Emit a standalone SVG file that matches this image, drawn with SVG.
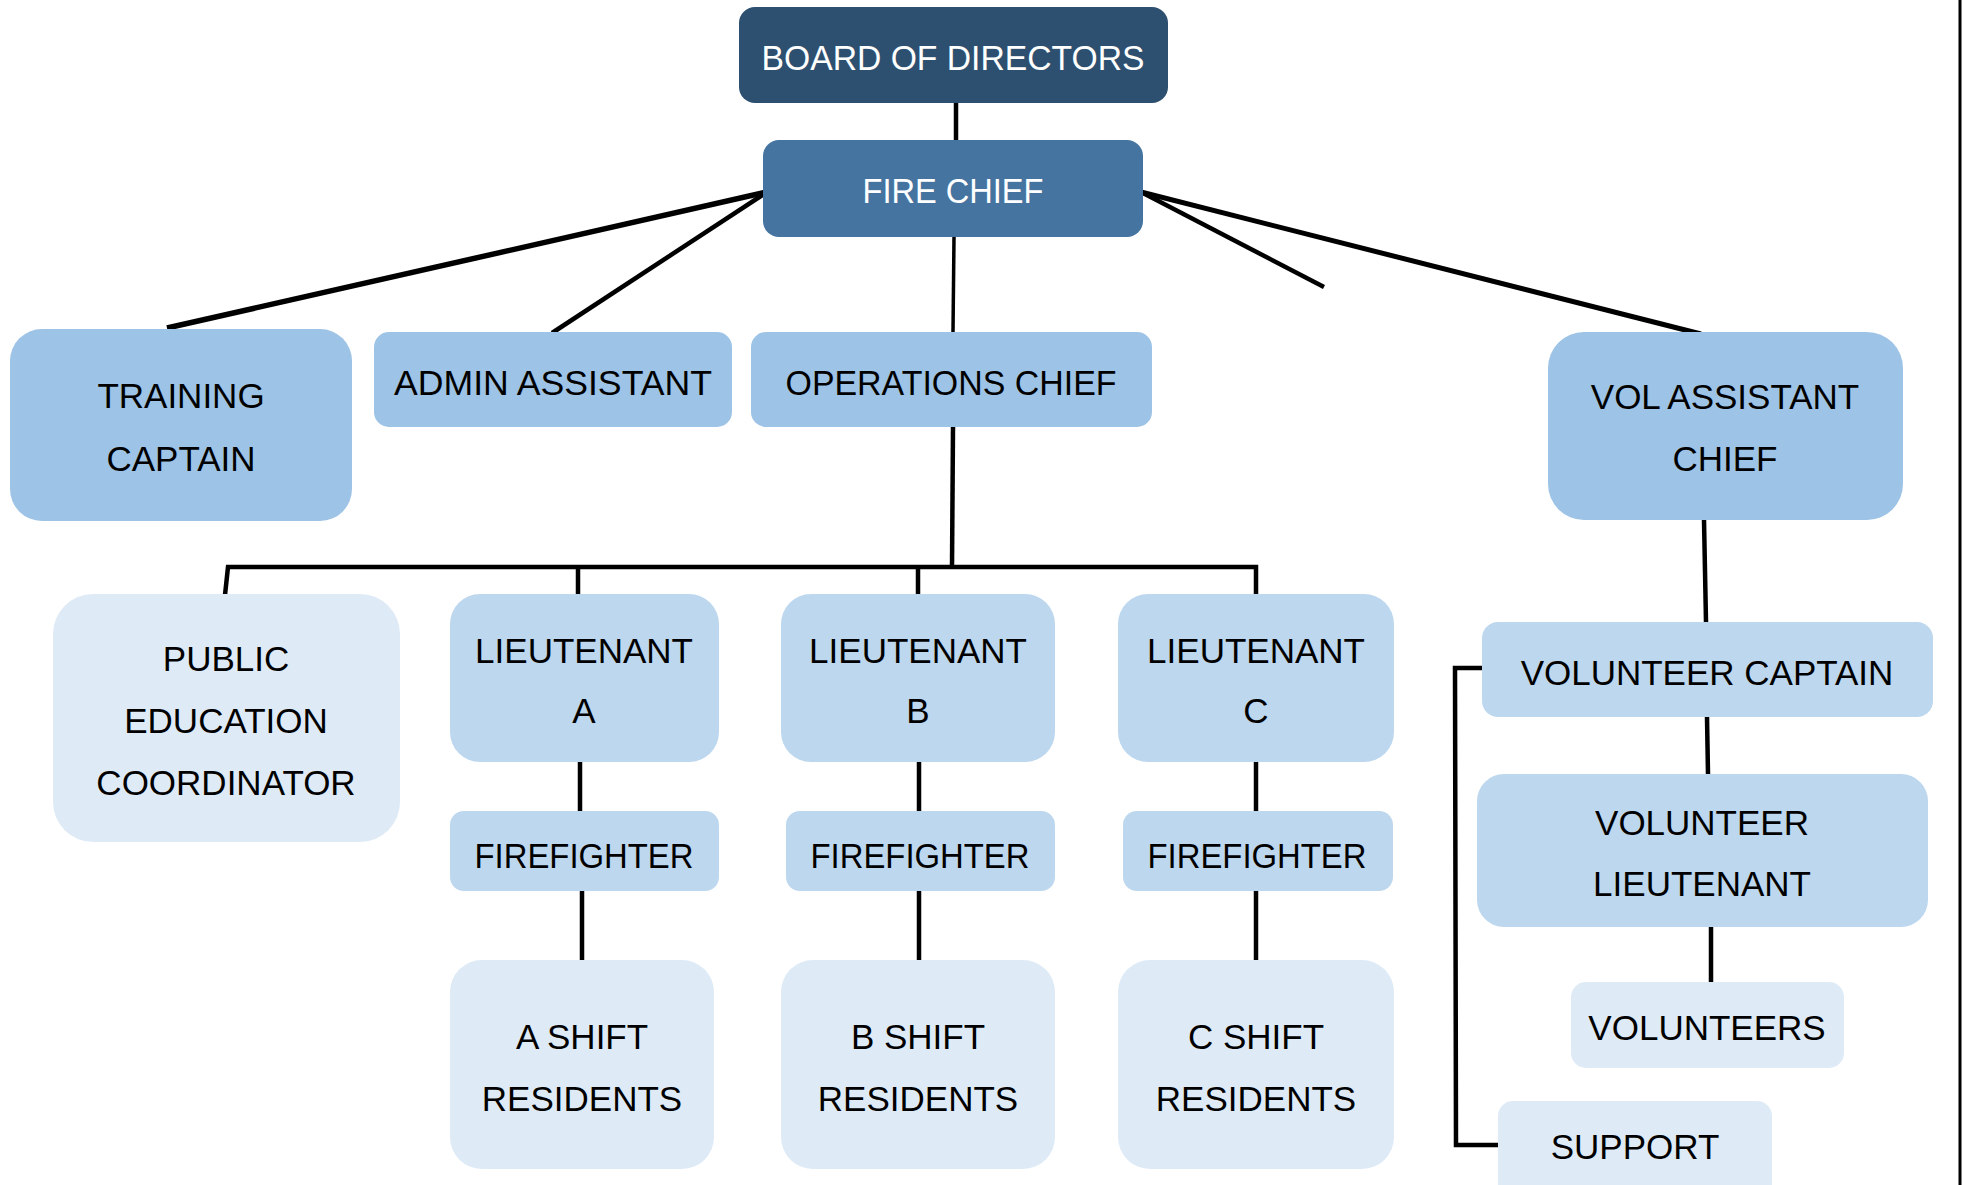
<svg xmlns="http://www.w3.org/2000/svg" width="1963" height="1185" viewBox="0 0 1963 1185">
<style>
.t{font-family:"Liberation Sans",Arial,sans-serif;font-size:35px;text-anchor:middle;fill:#000}
.w{fill:#fff}
.dk{fill:#2E5070}
.fc{fill:#44749F}
.md{fill:#9DC3E6}
.lt{fill:#BDD7EE}
.lg{fill:#DEEBF7}
.c{stroke:#000;stroke-width:4.5;fill:none;stroke-linecap:butt}
</style>
<rect width="1963" height="1185" fill="#fff"/>
<g id="connectors">
<line class="c" x1="956" y1="103" x2="956" y2="140"/>
<line class="c" x1="767" y1="192" x2="167" y2="328" style="stroke-width:5.5"/>
<line class="c" x1="767" y1="192" x2="552" y2="333"/>
<line class="c" x1="954" y1="237" x2="953" y2="332" style="stroke-width:3.5"/>
<line class="c" x1="1141" y1="192" x2="1324" y2="287"/>
<line class="c" x1="1141" y1="192" x2="1701" y2="334" style="stroke-width:5"/>
<line class="c" x1="953" y1="427" x2="952" y2="567"/>
<polyline class="c" points="225,595 228,567 1256,567 1256,595"/>
<line class="c" x1="578" y1="567" x2="578" y2="595"/>
<line class="c" x1="918" y1="567" x2="918" y2="595"/>
<line class="c" x1="580" y1="762" x2="580" y2="811"/>
<line class="c" x1="582" y1="891" x2="582" y2="960"/>
<line class="c" x1="919" y1="762" x2="919" y2="811"/>
<line class="c" x1="919" y1="891" x2="919" y2="960"/>
<line class="c" x1="1256" y1="762" x2="1256" y2="811"/>
<line class="c" x1="1256" y1="891" x2="1256" y2="960"/>
<line class="c" x1="1704" y1="520" x2="1706" y2="622"/>
<line class="c" x1="1707" y1="717" x2="1708" y2="774"/>
<line class="c" x1="1711" y1="927" x2="1711" y2="982"/>
<polyline class="c" points="1482,668 1455,668 1456,1145 1500,1145"/>
</g>
<line x1="1960" y1="0" x2="1960" y2="1185" stroke="#000" stroke-width="3"/>
<g id="board"><rect class="dk" x="739" y="7" width="429" height="96" rx="16"/><text class="t w" x="953" y="70" textLength="383" lengthAdjust="spacingAndGlyphs">BOARD OF DIRECTORS</text></g>
<g id="fire-chief"><rect class="fc" x="763" y="140" width="380" height="97" rx="16"/><text class="t w" x="953" y="203" textLength="181" lengthAdjust="spacingAndGlyphs">FIRE CHIEF</text></g>
<g id="training-captain"><rect class="md" x="10" y="329" width="342" height="192" rx="32"/><text class="t" x="181" y="408">TRAINING</text><text class="t" x="181" y="471">CAPTAIN</text></g>
<g id="admin-assistant"><rect class="md" x="374" y="332" width="358" height="95" rx="15"/><text class="t" x="553" y="395" textLength="318" lengthAdjust="spacingAndGlyphs">ADMIN ASSISTANT</text></g>
<g id="operations-chief"><rect class="md" x="751" y="332" width="401" height="95" rx="15"/><text class="t" x="951" y="395" textLength="331" lengthAdjust="spacingAndGlyphs">OPERATIONS CHIEF</text></g>
<g id="vol-assistant-chief"><rect class="md" x="1548" y="332" width="355" height="188" rx="36"/><text class="t" x="1725" y="409">VOL ASSISTANT</text><text class="t" x="1725" y="471">CHIEF</text></g>
<g id="public-education"><rect class="lg" x="53" y="594" width="347" height="248" rx="40"/><text class="t" x="226" y="671">PUBLIC</text><text class="t" x="226" y="733">EDUCATION</text><text class="t" x="226" y="795">COORDINATOR</text></g>
<g id="lieutenant-a"><rect class="lt" x="450" y="594" width="269" height="168" rx="30"/><text class="t" x="584" y="663">LIEUTENANT</text><text class="t" x="584" y="723">A</text></g>
<g id="lieutenant-b"><rect class="lt" x="781" y="594" width="274" height="168" rx="30"/><text class="t" x="918" y="663">LIEUTENANT</text><text class="t" x="918" y="723">B</text></g>
<g id="lieutenant-c"><rect class="lt" x="1118" y="594" width="276" height="168" rx="30"/><text class="t" x="1256" y="663">LIEUTENANT</text><text class="t" x="1256" y="723">C</text></g>
<g id="firefighter-a"><rect class="lt" x="450" y="811" width="269" height="80" rx="14"/><text class="t" x="584" y="868" textLength="219" lengthAdjust="spacingAndGlyphs">FIREFIGHTER</text></g>
<g id="firefighter-b"><rect class="lt" x="786" y="811" width="269" height="80" rx="14"/><text class="t" x="920" y="868" textLength="219" lengthAdjust="spacingAndGlyphs">FIREFIGHTER</text></g>
<g id="firefighter-c"><rect class="lt" x="1123" y="811" width="270" height="80" rx="14"/><text class="t" x="1257" y="868" textLength="219" lengthAdjust="spacingAndGlyphs">FIREFIGHTER</text></g>
<g id="a-shift"><rect class="lg" x="450" y="960" width="264" height="209" rx="32"/><text class="t" x="582" y="1049">A SHIFT</text><text class="t" x="582" y="1111">RESIDENTS</text></g>
<g id="b-shift"><rect class="lg" x="781" y="960" width="274" height="209" rx="32"/><text class="t" x="918" y="1049">B SHIFT</text><text class="t" x="918" y="1111">RESIDENTS</text></g>
<g id="c-shift"><rect class="lg" x="1118" y="960" width="276" height="209" rx="32"/><text class="t" x="1256" y="1049">C SHIFT</text><text class="t" x="1256" y="1111">RESIDENTS</text></g>
<g id="volunteer-captain"><rect class="lt" x="1482" y="622" width="451" height="95" rx="16"/><text class="t" x="1707" y="685">VOLUNTEER CAPTAIN</text></g>
<g id="volunteer-lieutenant"><rect class="lt" x="1477" y="774" width="451" height="153" rx="27"/><text class="t" x="1702" y="835">VOLUNTEER</text><text class="t" x="1702" y="896">LIEUTENANT</text></g>
<g id="volunteers"><rect class="lg" x="1571" y="982" width="273" height="86" rx="15"/><text class="t" x="1707" y="1040">VOLUNTEERS</text></g>
<g id="support"><rect class="lg" x="1498" y="1101" width="274" height="100" rx="15"/><text class="t" x="1635" y="1159">SUPPORT</text></g>
</svg>
